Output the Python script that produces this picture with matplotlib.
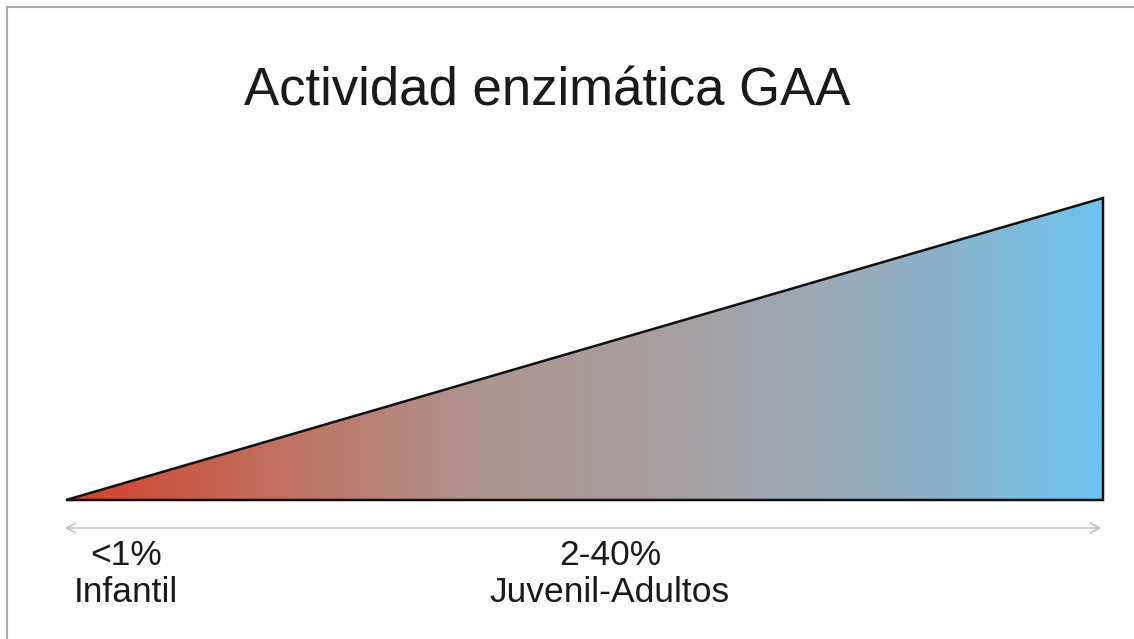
"""Actividad enzimatica GAA - gradient wedge"""

import numpy as np
import matplotlib
matplotlib.use("Agg")
import matplotlib.pyplot as plt
from matplotlib.colors import LinearSegmentedColormap
from matplotlib.patches import Polygon

# data
activity_range = [0, 40]           # % activity, left -> right
wedge_x = [0, 100, 100]           # relative position along phenotype axis
wedge_y = [0, 0, 40]
range_labels = ["<1%", "2-40%"]
group_labels = ["Infantil", "Juvenil-Adultos"]
label_x = [126, 610]              # px centres of the labels
grad_colors = ["#d2402c", "#c0705f", "#ae9590", "#a6a0a3", "#94aec0", "#6ec3ee"]

plt.rcParams['font.family'] = ['Liberation Sans', 'DejaVu Sans']

W, H = 1134, 639
fig = plt.figure(figsize=(W / 100, H / 100), dpi=100)
fig.patch.set_facecolor("white")

# frame lines (top and left) like the slide border
fig.add_artist(plt.Line2D([7 / W, 1], [1 - 7 / H, 1 - 7 / H], color="#aaaaaa", lw=1.5))
fig.add_artist(plt.Line2D([7 / W, 7 / W], [0, 1 - 7 / H], color="#aaaaaa", lw=1.5))

# wedge axes
x0, x1, yb, yt = 66, 1103, 500, 198
ax = fig.add_axes([x0 / W, 1 - yb / H, (x1 - x0) / W, (yb - yt) / H])
ax.set_xlim(0, 100)
ax.set_ylim(0, activity_range[1])
ax.axis("off")

cmap = LinearSegmentedColormap.from_list("gaa", grad_colors)
grad = np.linspace(0, 1, 512).reshape(1, -1)
im = ax.imshow(grad, cmap=cmap, aspect="auto", extent=[0, 100, 0, activity_range[1]],
               interpolation="bilinear")
tri = Polygon(list(zip(wedge_x, wedge_y)), closed=True, facecolor="none",
              edgecolor="#111111", lw=1.8, joinstyle="miter", clip_on=False)
ax.add_patch(tri)
im.set_clip_path(tri)

# double-headed arrow under the wedge
fig.add_artist(matplotlib.patches.FancyArrowPatch(
    (62 / W, 1 - 528 / H), (1104 / W, 1 - 528 / H), transform=fig.transFigure,
    arrowstyle="<->,head_length=7,head_width=3.5", color="#bbbbbb", lw=1.0))

# title
fig.text(547 / W, 1 - 106 / H, "Actividad enzimática GAA", ha="center", va="baseline",
         fontsize=38, color="#1a1a1a")

for xp, r, g in zip(label_x, range_labels, group_labels):
    fig.text(xp / W, 1 - 565 / H, r, ha="center", va="baseline", fontsize=25.5, color="#1a1a1a")
    fig.text(xp / W, 1 - 602 / H, g, ha="center", va="baseline", fontsize=25.5, color="#1a1a1a")

plt.savefig("out.png", dpi=100, facecolor="white")
